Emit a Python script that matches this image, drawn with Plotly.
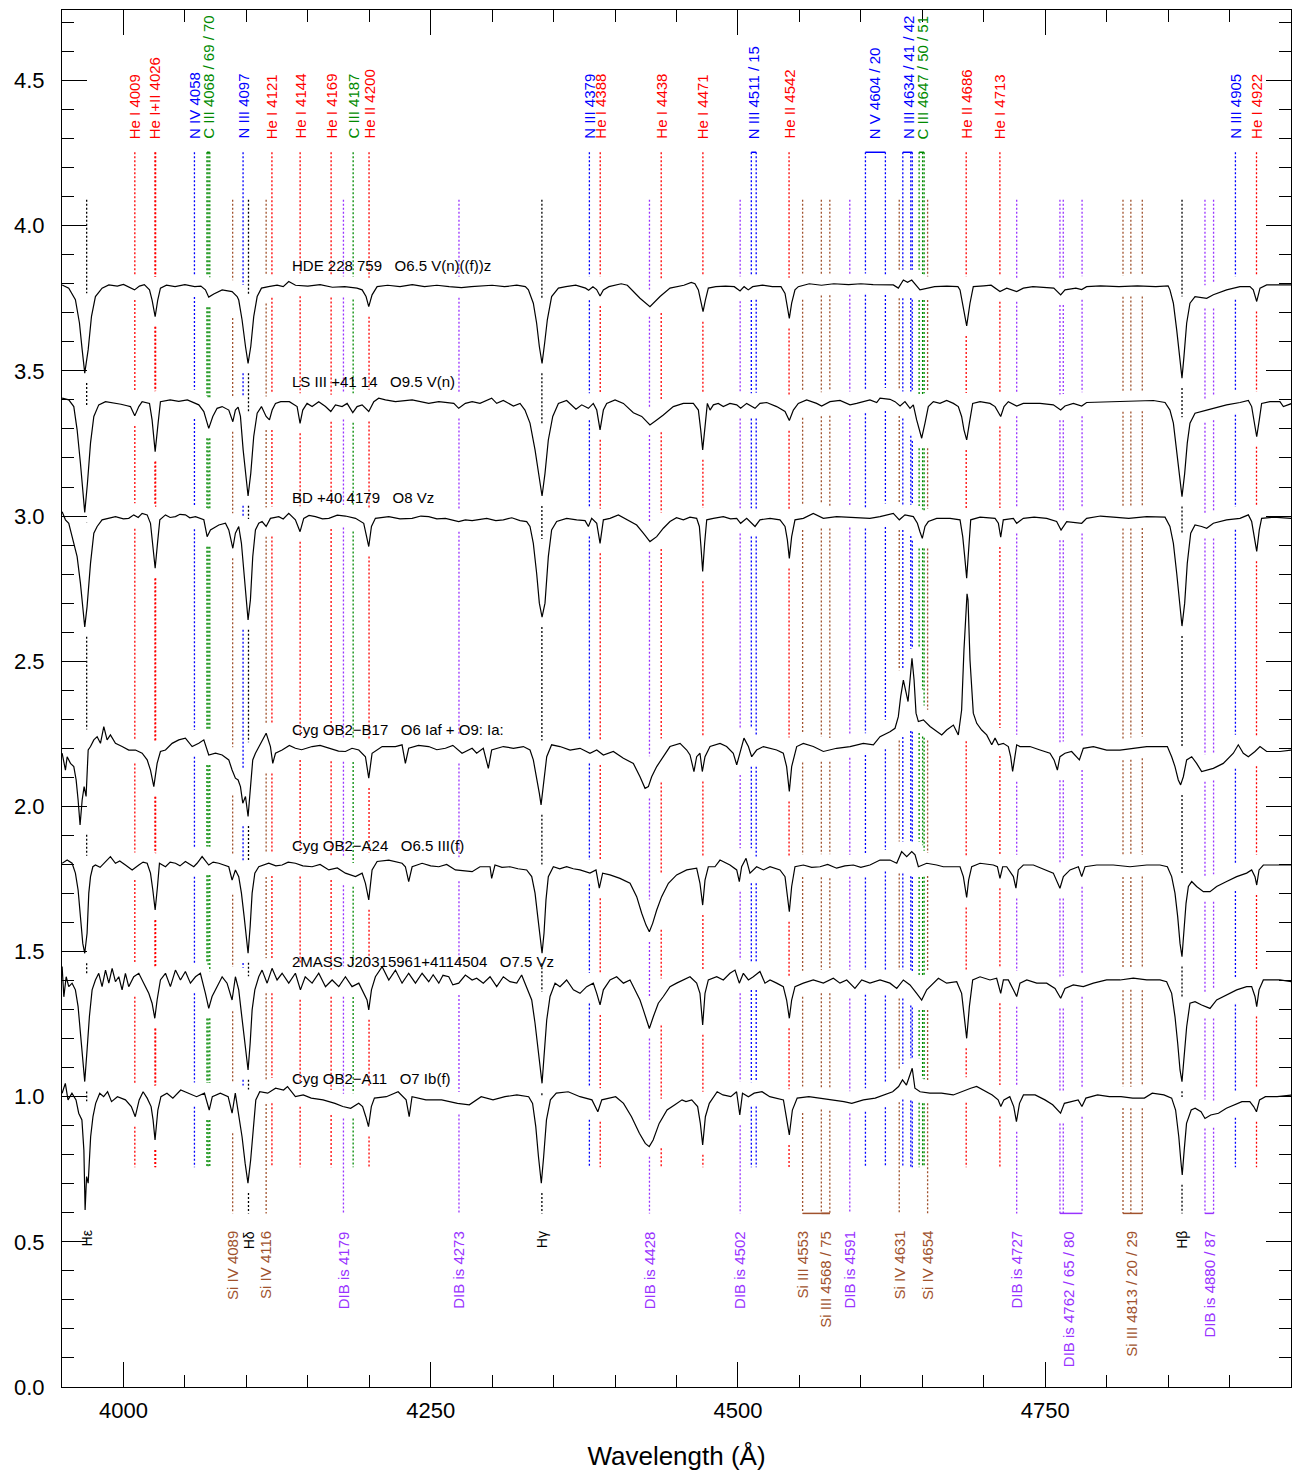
import numpy as np
import plotly.graph_objects as go

# ---------------------------------------------------------------------------
# Rectified spectra (wavelength in Angstrom, flux shifted by a constant offset)
# ---------------------------------------------------------------------------
HDE_228759 = [
    (3950.1, 3.796), (3955.5, 3.785), (3960.9, 3.745), (3964.2, 3.665), (3966.4, 3.573),
    (3968.5, 3.492), (3971.3, 3.573), (3974.0, 3.688), (3977.2, 3.756), (3982.6, 3.785),
    (3988.1, 3.796), (3995.0, 3.792), (4000.0, 3.798), (4005.0, 3.786), (4009.0, 3.779),
    (4013.0, 3.792), (4017.0, 3.797), (4021.2, 3.779), (4023.3, 3.744), (4025.8, 3.687),
    (4027.9, 3.744), (4030.1, 3.785), (4035.0, 3.795), (4042.0, 3.790), (4050.0, 3.797),
    (4058.0, 3.790), (4063.0, 3.792), (4066.7, 3.779), (4069.4, 3.754), (4073.5, 3.765),
    (4080.3, 3.779), (4088.4, 3.773), (4092.5, 3.756), (4093.8, 3.744), (4096.5, 3.676),
    (4099.3, 3.584), (4101.4, 3.526), (4103.6, 3.584), (4106.0, 3.687), (4108.8, 3.756),
    (4112.3, 3.785), (4118.0, 3.790), (4125.0, 3.795), (4130.0, 3.790), (4134.5, 3.808),
    (4140.0, 3.795), (4150.0, 3.792), (4160.0, 3.797), (4170.0, 3.788), (4180.0, 3.790),
    (4190.0, 3.785), (4194.2, 3.779), (4197.4, 3.756), (4199.6, 3.721), (4202.3, 3.762),
    (4206.4, 3.790), (4215.0, 3.795), (4225.0, 3.790), (4235.0, 3.797), (4245.0, 3.790),
    (4255.0, 3.795), (4265.0, 3.790), (4275.0, 3.787), (4283.0, 3.790), (4290.0, 3.792),
    (4300.0, 3.795), (4310.0, 3.790), (4320.0, 3.795), (4327.0, 3.790), (4329.5, 3.779),
    (4333.5, 3.733), (4336.2, 3.664), (4338.4, 3.584), (4340.6, 3.526), (4342.7, 3.595),
    (4344.9, 3.676), (4348.4, 3.756), (4353.9, 3.785), (4360.0, 3.790), (4368.0, 3.795),
    (4376.0, 3.785), (4378.5, 3.778), (4382.0, 3.790), (4385.0, 3.780), (4387.8, 3.758),
    (4390.5, 3.779), (4395.0, 3.790), (4400.0, 3.795), (4405.0, 3.800), (4410.0, 3.795),
    (4413.5, 3.779), (4420.3, 3.750), (4428.4, 3.721), (4436.6, 3.756), (4444.7, 3.785),
    (4450.0, 3.790), (4456.0, 3.795), (4462.0, 3.805), (4465.0, 3.800), (4467.8, 3.779),
    (4469.7, 3.744), (4471.6, 3.704), (4473.5, 3.744), (4475.9, 3.785), (4482.0, 3.790),
    (4490.0, 3.792), (4497.0, 3.790), (4501.7, 3.775), (4505.0, 3.790), (4508.4, 3.779),
    (4512.0, 3.790), (4520.0, 3.795), (4528.0, 3.790), (4535.0, 3.790), (4538.3, 3.767),
    (4540.2, 3.721), (4541.8, 3.681), (4543.7, 3.733), (4546.4, 3.779), (4549.1, 3.790),
    (4558.0, 3.800), (4568.0, 3.795), (4578.0, 3.800), (4590.0, 3.797), (4600.0, 3.800),
    (4610.0, 3.797), (4620.0, 3.796), (4626.4, 3.796), (4630.5, 3.785), (4634.6, 3.813),
    (4638.0, 3.805), (4641.4, 3.813), (4648.1, 3.779), (4653.6, 3.785), (4660.0, 3.790),
    (4670.0, 3.792), (4679.0, 3.790), (4680.7, 3.779), (4683.4, 3.710), (4686.1, 3.655),
    (4688.8, 3.733), (4691.5, 3.790), (4700.0, 3.793), (4706.0, 3.795), (4713.2, 3.773),
    (4718.7, 3.785), (4726.8, 3.773), (4732.2, 3.785), (4740.0, 3.790), (4750.0, 3.788),
    (4757.0, 3.785), (4762.6, 3.762), (4766.1, 3.779), (4775.0, 3.785), (4779.7, 3.780),
    (4783.7, 3.790), (4795.0, 3.793), (4810.0, 3.790), (4825.0, 3.793), (4840.0, 3.790),
    (4850.0, 3.793), (4851.5, 3.779), (4854.3, 3.733), (4857.0, 3.641), (4859.7, 3.538),
    (4861.3, 3.475), (4862.9, 3.549), (4865.1, 3.664), (4867.8, 3.733), (4871.9, 3.756),
    (4881.4, 3.750), (4886.8, 3.762), (4897.6, 3.779), (4908.5, 3.790), (4916.6, 3.790),
    (4919.3, 3.779), (4922.1, 3.739), (4924.8, 3.785), (4930.2, 3.796), (4950.8, 3.796),
]

LS_III_41_14 = [
    (3950.1, 3.406), (3955.5, 3.400), (3959.6, 3.377), (3962.3, 3.297), (3965.0, 3.182),
    (3966.9, 3.090), (3968.5, 3.012), (3970.7, 3.113), (3973.2, 3.251), (3975.9, 3.343),
    (3979.9, 3.383), (3985.4, 3.394), (3992.0, 3.390), (3998.0, 3.385), (4003.0, 3.380),
    (4005.7, 3.377), (4009.2, 3.345), (4012.5, 3.377), (4015.2, 3.394), (4021.2, 3.388),
    (4023.3, 3.331), (4025.8, 3.222), (4028.2, 3.320), (4030.1, 3.394), (4038.0, 3.400),
    (4045.0, 3.395), (4052.0, 3.400), (4057.0, 3.390), (4061.3, 3.383), (4065.4, 3.360),
    (4069.4, 3.302), (4072.7, 3.343), (4076.2, 3.371), (4080.3, 3.377), (4085.7, 3.365),
    (4089.0, 3.325), (4091.1, 3.365), (4093.3, 3.375), (4095.2, 3.343), (4097.4, 3.228),
    (4099.3, 3.147), (4101.4, 3.069), (4103.6, 3.147), (4106.0, 3.274), (4108.8, 3.354),
    (4112.3, 3.377), (4116.1, 3.343), (4118.8, 3.331), (4121.0, 3.365), (4123.7, 3.388),
    (4128.0, 3.394), (4135.0, 3.394), (4141.3, 3.377), (4143.7, 3.319), (4145.9, 3.365),
    (4149.4, 3.388), (4153.5, 3.377), (4158.9, 3.394), (4164.4, 3.377), (4168.7, 3.360),
    (4172.5, 3.383), (4177.9, 3.377), (4182.0, 3.388), (4186.6, 3.356), (4190.1, 3.377),
    (4194.2, 3.383), (4199.6, 3.360), (4203.7, 3.394), (4207.7, 3.406), (4213.2, 3.400),
    (4221.3, 3.394), (4234.9, 3.400), (4248.4, 3.388), (4256.6, 3.394), (4268.8, 3.388),
    (4272.8, 3.371), (4278.2, 3.388), (4283.7, 3.394), (4290.1, 3.388), (4299.6, 3.406),
    (4303.7, 3.388), (4309.1, 3.398), (4317.3, 3.379), (4322.7, 3.388), (4326.7, 3.365),
    (4330.8, 3.320), (4334.9, 3.228), (4337.6, 3.147), (4340.6, 3.069), (4343.0, 3.147),
    (4345.7, 3.262), (4349.3, 3.343), (4353.9, 3.388), (4360.6, 3.398), (4363.4, 3.388),
    (4368.2, 3.368), (4372.9, 3.383), (4378.3, 3.371), (4382.3, 3.388), (4385.1, 3.365),
    (4387.8, 3.297), (4390.5, 3.365), (4393.2, 3.388), (4400.0, 3.400), (4406.8, 3.388),
    (4414.9, 3.356), (4421.7, 3.343), (4428.4, 3.314), (4433.9, 3.331), (4439.3, 3.348),
    (4447.4, 3.377), (4455.6, 3.388), (4463.7, 3.388), (4467.8, 3.365), (4469.7, 3.297),
    (4471.3, 3.228), (4473.5, 3.320), (4475.1, 3.388), (4477.3, 3.365), (4480.0, 3.383),
    (4484.0, 3.388), (4488.1, 3.377), (4493.5, 3.388), (4499.0, 3.383), (4502.2, 3.371),
    (4507.1, 3.388), (4513.9, 3.371), (4517.9, 3.388), (4523.4, 3.391), (4531.5, 3.377),
    (4538.3, 3.360), (4541.8, 3.329), (4545.1, 3.365), (4549.1, 3.388), (4555.9, 3.400),
    (4564.0, 3.388), (4568.1, 3.379), (4574.9, 3.394), (4583.0, 3.398), (4591.2, 3.383),
    (4596.6, 3.388), (4607.4, 3.400), (4612.9, 3.391), (4615.6, 3.406), (4623.7, 3.402),
    (4627.8, 3.394), (4631.9, 3.379), (4635.9, 3.394), (4640.0, 3.371), (4642.7, 3.383),
    (4645.4, 3.331), (4649.5, 3.268), (4652.2, 3.320), (4654.9, 3.377), (4659.0, 3.394),
    (4664.4, 3.388), (4669.8, 3.398), (4675.3, 3.388), (4679.3, 3.377), (4682.0, 3.343),
    (4683.9, 3.297), (4686.1, 3.262), (4688.3, 3.320), (4691.0, 3.388), (4697.0, 3.394),
    (4705.1, 3.388), (4709.2, 3.377), (4711.9, 3.354), (4713.8, 3.343), (4716.5, 3.377),
    (4720.0, 3.394), (4726.8, 3.379), (4732.2, 3.388), (4745.8, 3.388), (4756.6, 3.383),
    (4762.6, 3.365), (4766.1, 3.379), (4772.9, 3.388), (4779.7, 3.379), (4783.7, 3.391),
    (4805.4, 3.394), (4821.7, 3.396), (4838.0, 3.398), (4847.5, 3.391), (4851.5, 3.365),
    (4854.3, 3.320), (4857.0, 3.228), (4859.1, 3.136), (4861.3, 3.067), (4863.5, 3.147),
    (4865.6, 3.251), (4867.8, 3.320), (4871.9, 3.354), (4881.4, 3.365), (4886.8, 3.371),
    (4897.6, 3.383), (4908.5, 3.391), (4915.3, 3.398), (4918.0, 3.377), (4920.1, 3.320),
    (4922.1, 3.273), (4924.2, 3.331), (4926.1, 3.388), (4932.9, 3.394), (4941.0, 3.394),
    (4943.8, 3.377), (4950.8, 3.388),
]

BD_40_4179 = [
    (3950.1, 3.015), (3952.8, 2.987), (3955.5, 2.975), (3958.2, 2.929), (3962.3, 2.860),
    (3965.0, 2.768), (3966.9, 2.688), (3968.5, 2.618), (3970.4, 2.688), (3973.2, 2.837),
    (3975.9, 2.941), (3978.6, 2.964), (3982.6, 2.987), (3988.1, 2.992), (3993.5, 2.998),
    (4000.0, 2.990), (4004.3, 2.992), (4008.4, 3.004), (4012.0, 2.995), (4015.2, 3.009),
    (4019.3, 3.004), (4022.0, 2.975), (4023.9, 2.906), (4025.8, 2.820), (4027.7, 2.906),
    (4029.6, 2.987), (4034.2, 3.004), (4038.0, 2.995), (4042.3, 2.998), (4046.0, 3.006),
    (4050.4, 3.004), (4054.0, 2.994), (4058.6, 2.998), (4065.4, 2.987), (4068.1, 2.929),
    (4070.8, 2.952), (4077.6, 2.969), (4083.0, 2.975), (4085.7, 2.952), (4089.0, 2.889),
    (4091.1, 2.941), (4093.8, 2.964), (4096.0, 2.906), (4097.9, 2.803), (4099.8, 2.711),
    (4101.4, 2.642), (4103.3, 2.711), (4105.2, 2.860), (4107.4, 2.952), (4110.1, 2.975),
    (4112.8, 2.981), (4116.1, 2.964), (4119.6, 2.992), (4126.4, 2.998), (4130.0, 2.990),
    (4134.5, 3.009), (4139.9, 2.987), (4143.7, 2.946), (4146.7, 2.992), (4151.0, 3.002),
    (4156.2, 2.998), (4162.0, 2.990), (4167.1, 2.992), (4174.0, 3.003), (4180.6, 3.000),
    (4188.8, 2.992), (4195.5, 2.975), (4197.4, 2.941), (4199.6, 2.895), (4201.8, 2.964),
    (4205.0, 2.992), (4215.9, 2.998), (4225.0, 2.990), (4234.9, 2.992), (4242.0, 3.000),
    (4248.4, 2.998), (4255.0, 2.990), (4262.0, 2.992), (4272.8, 2.981), (4278.2, 2.987),
    (4283.7, 2.984), (4295.6, 2.992), (4303.0, 2.984), (4309.1, 2.987), (4316.0, 2.994),
    (4322.7, 2.984), (4328.1, 2.981), (4330.8, 2.964), (4333.5, 2.906), (4336.2, 2.803),
    (4338.4, 2.700), (4340.6, 2.652), (4343.0, 2.700), (4345.7, 2.860), (4348.4, 2.952),
    (4352.5, 2.981), (4360.6, 2.992), (4368.8, 2.987), (4375.6, 2.984), (4378.3, 2.964),
    (4381.0, 2.992), (4385.1, 2.975), (4387.8, 2.906), (4390.5, 2.987), (4395.9, 2.992),
    (4402.7, 3.004), (4409.5, 2.987), (4417.6, 2.969), (4423.0, 2.941), (4428.4, 2.912),
    (4433.9, 2.929), (4439.3, 2.958), (4444.7, 2.981), (4450.0, 2.994), (4455.6, 2.987),
    (4461.0, 2.996), (4466.4, 2.992), (4468.6, 2.964), (4469.9, 2.895), (4471.3, 2.809),
    (4472.9, 2.906), (4474.6, 2.987), (4480.0, 2.992), (4488.1, 2.998), (4494.0, 2.990),
    (4499.0, 2.992), (4502.2, 2.975), (4507.1, 2.992), (4513.9, 2.964), (4517.9, 2.987),
    (4526.1, 2.992), (4534.2, 2.987), (4538.3, 2.964), (4540.2, 2.918), (4541.8, 2.854),
    (4543.7, 2.929), (4546.4, 2.987), (4553.2, 2.992), (4561.3, 3.009), (4569.5, 2.992),
    (4580.3, 2.998), (4593.9, 2.996), (4607.4, 2.992), (4615.6, 2.998), (4626.4, 3.009),
    (4631.3, 2.987), (4635.9, 3.004), (4642.7, 2.998), (4646.0, 2.975), (4648.1, 2.946),
    (4650.0, 2.923), (4652.2, 2.964), (4654.9, 2.981), (4661.7, 2.992), (4672.6, 2.992),
    (4680.7, 2.987), (4682.9, 2.929), (4684.5, 2.860), (4686.1, 2.786), (4687.7, 2.883),
    (4689.4, 2.987), (4697.0, 2.996), (4709.2, 2.992), (4711.9, 2.975), (4713.8, 2.927),
    (4715.9, 2.987), (4724.1, 2.992), (4726.8, 2.975), (4732.2, 2.992), (4741.0, 2.996),
    (4751.2, 2.992), (4759.3, 2.981), (4762.9, 2.952), (4767.5, 2.981), (4779.7, 2.975),
    (4783.7, 2.992), (4795.0, 3.000), (4805.4, 2.996), (4818.0, 2.992), (4832.6, 2.998),
    (4847.5, 2.996), (4851.5, 2.964), (4854.3, 2.906), (4857.0, 2.803), (4859.1, 2.700),
    (4861.3, 2.621), (4863.5, 2.700), (4865.6, 2.837), (4868.4, 2.941), (4871.9, 2.969),
    (4877.3, 2.964), (4881.4, 2.958), (4886.8, 2.975), (4897.6, 2.987), (4908.5, 2.992),
    (4915.3, 3.004), (4918.0, 2.981), (4920.1, 2.929), (4922.1, 2.878), (4924.2, 2.952),
    (4926.1, 2.992), (4935.6, 2.996), (4950.8, 2.992),
]

CYG_OB2_B17 = [
    (3950.1, 2.183), (3952.8, 2.125), (3954.2, 2.171), (3956.9, 2.148), (3959.6, 2.137),
    (3961.5, 2.091), (3963.1, 2.022), (3964.7, 1.936), (3966.4, 2.022), (3968.0, 2.068),
    (3969.6, 2.034), (3971.3, 2.194), (3973.2, 2.206), (3975.9, 2.229), (3978.6, 2.240),
    (3981.3, 2.217), (3984.0, 2.275), (3986.7, 2.229), (3989.4, 2.246), (3993.5, 2.217),
    (3998.9, 2.206), (4004.3, 2.194), (4009.8, 2.194), (4015.2, 2.183), (4019.3, 2.160),
    (4022.0, 2.125), (4024.7, 2.068), (4027.4, 2.148), (4030.1, 2.189), (4034.2, 2.194),
    (4039.6, 2.217), (4045.0, 2.229), (4050.4, 2.235), (4055.9, 2.206), (4061.3, 2.217),
    (4065.4, 2.229), (4069.4, 2.177), (4074.9, 2.183), (4080.3, 2.177), (4085.7, 2.160),
    (4088.4, 2.125), (4091.1, 2.097), (4093.3, 2.091), (4095.2, 2.068), (4097.1, 2.011),
    (4099.3, 2.034), (4101.4, 1.965), (4103.3, 2.068), (4105.2, 2.160), (4107.4, 2.183),
    (4111.5, 2.217), (4116.1, 2.252), (4119.6, 2.206), (4121.5, 2.148), (4123.7, 2.183),
    (4129.1, 2.194), (4135.0, 2.210), (4139.9, 2.200), (4145.0, 2.195), (4153.5, 2.206),
    (4160.0, 2.210), (4167.1, 2.200), (4175.0, 2.190), (4180.6, 2.189), (4186.0, 2.200),
    (4191.5, 2.194), (4196.9, 2.171), (4199.6, 2.097), (4202.3, 2.183), (4210.5, 2.206),
    (4221.3, 2.206), (4226.7, 2.212), (4229.4, 2.148), (4232.1, 2.200), (4240.0, 2.210),
    (4248.4, 2.206), (4255.0, 2.195), (4262.0, 2.200), (4268.0, 2.210), (4275.5, 2.183),
    (4283.7, 2.200), (4287.4, 2.183), (4292.8, 2.200), (4296.9, 2.131), (4299.6, 2.194),
    (4309.1, 2.206), (4317.3, 2.200), (4325.4, 2.206), (4330.8, 2.194), (4333.5, 2.160),
    (4336.2, 2.102), (4338.4, 2.045), (4339.8, 2.005), (4341.7, 2.068), (4344.4, 2.171),
    (4348.4, 2.212), (4355.2, 2.206), (4363.4, 2.194), (4371.5, 2.200), (4379.6, 2.183),
    (4385.1, 2.194), (4390.5, 2.177), (4398.6, 2.189), (4406.8, 2.166), (4414.9, 2.148),
    (4420.3, 2.102), (4424.4, 2.062), (4427.1, 2.068), (4429.8, 2.102), (4433.9, 2.137),
    (4439.3, 2.171), (4444.7, 2.206), (4452.9, 2.217), (4458.3, 2.194), (4461.0, 2.177),
    (4464.2, 2.120), (4466.4, 2.171), (4469.1, 2.183), (4471.0, 2.120), (4473.2, 2.171),
    (4477.3, 2.206), (4485.4, 2.217), (4490.8, 2.206), (4496.2, 2.183), (4499.0, 2.143),
    (4501.7, 2.183), (4504.9, 2.235), (4508.5, 2.206), (4511.2, 2.171), (4515.2, 2.194),
    (4520.7, 2.206), (4531.5, 2.194), (4536.9, 2.183), (4539.6, 2.137), (4541.8, 2.051),
    (4543.7, 2.137), (4547.8, 2.206), (4553.2, 2.217), (4561.3, 2.206), (4569.5, 2.189),
    (4580.3, 2.200), (4591.2, 2.206), (4602.0, 2.217), (4610.2, 2.212), (4615.6, 2.240),
    (4623.7, 2.257), (4627.8, 2.269), (4630.5, 2.309), (4632.4, 2.378), (4634.6, 2.435),
    (4636.2, 2.401), (4638.4, 2.361), (4640.0, 2.435), (4641.6, 2.510), (4643.3, 2.435),
    (4644.9, 2.321), (4646.8, 2.292), (4650.9, 2.298), (4656.3, 2.275), (4661.7, 2.257),
    (4665.8, 2.246), (4669.8, 2.263), (4675.3, 2.280), (4679.3, 2.246), (4682.0, 2.332),
    (4683.9, 2.539), (4685.6, 2.711), (4686.4, 2.732), (4687.2, 2.711), (4688.8, 2.504),
    (4691.5, 2.321), (4694.3, 2.286), (4698.3, 2.263), (4702.4, 2.246), (4706.5, 2.212),
    (4709.2, 2.235), (4711.9, 2.212), (4715.9, 2.217), (4720.0, 2.206), (4721.9, 2.171),
    (4723.5, 2.120), (4726.8, 2.212), (4729.5, 2.206), (4737.6, 2.206), (4745.8, 2.194),
    (4753.9, 2.183), (4757.2, 2.160), (4759.9, 2.125), (4762.0, 2.171), (4766.1, 2.183),
    (4771.5, 2.189), (4775.6, 2.171), (4777.8, 2.160), (4781.0, 2.200), (4789.2, 2.206),
    (4800.0, 2.194), (4810.9, 2.194), (4821.7, 2.200), (4832.6, 2.206), (4843.4, 2.206),
    (4849.4, 2.206), (4852.9, 2.171), (4855.6, 2.137), (4858.3, 2.091), (4860.2, 2.074),
    (4862.4, 2.102), (4865.1, 2.160), (4869.2, 2.171), (4873.2, 2.148), (4877.3, 2.120),
    (4886.8, 2.131), (4894.9, 2.148), (4903.1, 2.183), (4907.1, 2.212), (4911.2, 2.183),
    (4915.3, 2.171), (4920.7, 2.189), (4924.8, 2.206), (4930.2, 2.189), (4941.0, 2.189),
    (4950.8, 2.194),
]

CYG_OB2_A24 = [
    (3950.1, 1.804), (3954.2, 1.815), (3958.2, 1.804), (3960.9, 1.770), (3963.1, 1.712),
    (3965.0, 1.609), (3966.9, 1.528), (3968.5, 1.494), (3970.4, 1.563), (3971.8, 1.701),
    (3973.2, 1.758), (3975.1, 1.792), (3977.2, 1.798), (3981.0, 1.790), (3985.4, 1.810),
    (3989.4, 1.827), (3993.5, 1.804), (3997.0, 1.812), (4001.6, 1.798), (4007.1, 1.781),
    (4012.5, 1.798), (4016.0, 1.808), (4019.3, 1.804), (4022.0, 1.770), (4023.9, 1.712),
    (4025.8, 1.643), (4027.7, 1.724), (4029.3, 1.804), (4034.2, 1.792), (4038.0, 1.808),
    (4042.3, 1.804), (4046.0, 1.795), (4050.4, 1.810), (4057.2, 1.792), (4059.9, 1.804),
    (4064.0, 1.827), (4069.4, 1.798), (4073.0, 1.808), (4077.6, 1.804), (4085.7, 1.792),
    (4088.4, 1.746), (4091.1, 1.781), (4093.8, 1.758), (4096.0, 1.701), (4098.2, 1.620),
    (4100.1, 1.551), (4101.4, 1.494), (4103.1, 1.586), (4104.7, 1.701), (4106.9, 1.770),
    (4110.1, 1.792), (4118.2, 1.804), (4124.0, 1.795), (4129.1, 1.798), (4134.0, 1.808),
    (4139.9, 1.804), (4146.0, 1.795), (4153.5, 1.792), (4160.0, 1.800), (4167.1, 1.781),
    (4174.0, 1.788), (4180.6, 1.770), (4188.8, 1.758), (4194.2, 1.770), (4196.9, 1.735),
    (4199.6, 1.678), (4202.3, 1.781), (4206.4, 1.810), (4215.9, 1.815), (4226.7, 1.804),
    (4229.4, 1.792), (4232.1, 1.741), (4234.9, 1.792), (4243.0, 1.804), (4250.0, 1.795),
    (4256.6, 1.792), (4263.0, 1.800), (4270.1, 1.781), (4283.7, 1.775), (4290.1, 1.792),
    (4298.3, 1.792), (4299.6, 1.752), (4302.3, 1.798), (4308.0, 1.790), (4314.5, 1.792),
    (4321.0, 1.785), (4328.1, 1.781), (4332.2, 1.758), (4334.9, 1.701), (4337.1, 1.620),
    (4339.0, 1.540), (4340.6, 1.494), (4342.2, 1.563), (4343.8, 1.678), (4345.7, 1.758),
    (4349.8, 1.792), (4355.0, 1.785), (4360.6, 1.792), (4366.0, 1.785), (4371.5, 1.781),
    (4379.6, 1.770), (4384.5, 1.781), (4387.2, 1.718), (4389.9, 1.770), (4395.9, 1.764),
    (4404.0, 1.752), (4412.2, 1.735), (4417.6, 1.689), (4421.7, 1.632), (4425.2, 1.591),
    (4427.9, 1.568), (4430.6, 1.597), (4433.9, 1.643), (4437.9, 1.689), (4443.4, 1.735),
    (4450.1, 1.764), (4458.3, 1.781), (4466.4, 1.787), (4469.1, 1.735), (4471.3, 1.660),
    (4473.2, 1.746), (4475.9, 1.792), (4481.3, 1.792), (4485.4, 1.815), (4493.5, 1.798),
    (4499.0, 1.781), (4501.1, 1.741), (4503.0, 1.792), (4506.6, 1.821), (4509.8, 1.770),
    (4515.2, 1.792), (4520.7, 1.781), (4526.1, 1.792), (4534.2, 1.781), (4538.3, 1.758),
    (4540.2, 1.701), (4541.8, 1.637), (4543.7, 1.724), (4546.4, 1.792), (4553.2, 1.798),
    (4560.0, 1.790), (4566.8, 1.792), (4573.0, 1.800), (4580.3, 1.787), (4587.0, 1.795),
    (4593.9, 1.798), (4600.0, 1.790), (4607.4, 1.798), (4615.6, 1.815), (4623.7, 1.815),
    (4629.2, 1.804), (4633.2, 1.844), (4637.3, 1.827), (4641.4, 1.844), (4644.1, 1.833),
    (4646.8, 1.792), (4653.6, 1.804), (4661.7, 1.798), (4667.1, 1.792), (4675.3, 1.792),
    (4680.7, 1.792), (4683.4, 1.758), (4685.0, 1.712), (4686.1, 1.686), (4687.7, 1.746),
    (4690.2, 1.792), (4697.0, 1.804), (4707.8, 1.798), (4711.1, 1.792), (4713.2, 1.752),
    (4715.4, 1.792), (4718.7, 1.792), (4724.1, 1.758), (4726.2, 1.718), (4728.1, 1.781),
    (4732.2, 1.798), (4740.4, 1.798), (4751.2, 1.781), (4756.6, 1.770), (4762.0, 1.718),
    (4764.8, 1.758), (4770.2, 1.781), (4777.0, 1.792), (4779.7, 1.758), (4782.4, 1.792),
    (4791.9, 1.798), (4805.4, 1.798), (4819.0, 1.792), (4832.6, 1.798), (4843.4, 1.798),
    (4849.4, 1.792), (4852.9, 1.758), (4855.6, 1.701), (4857.8, 1.620), (4859.7, 1.528),
    (4861.3, 1.482), (4862.9, 1.563), (4864.6, 1.666), (4866.5, 1.724), (4869.2, 1.741),
    (4873.2, 1.724), (4878.7, 1.706), (4884.1, 1.706), (4889.5, 1.724), (4897.6, 1.741),
    (4905.8, 1.758), (4913.9, 1.770), (4918.0, 1.781), (4920.7, 1.758), (4922.1, 1.729),
    (4924.0, 1.781), (4927.5, 1.798), (4941.0, 1.798), (4950.8, 1.798),
]

J20315961_4114504 = [
    (3950.1, 1.448), (3951.5, 1.344), (3953.4, 1.413), (3955.5, 1.379), (3958.2, 1.391),
    (3960.9, 1.368), (3963.1, 1.310), (3965.0, 1.218), (3966.9, 1.115), (3968.5, 1.052),
    (3970.4, 1.161), (3972.3, 1.276), (3974.5, 1.368), (3977.2, 1.402), (3979.9, 1.425),
    (3982.6, 1.379), (3985.4, 1.436), (3988.1, 1.391), (3990.8, 1.442), (3993.5, 1.396),
    (3996.2, 1.413), (3998.9, 1.368), (4001.6, 1.425), (4004.3, 1.379), (4008.4, 1.413),
    (4012.5, 1.425), (4016.5, 1.391), (4020.6, 1.356), (4023.3, 1.322), (4025.5, 1.270),
    (4027.4, 1.333), (4030.1, 1.402), (4034.2, 1.425), (4038.2, 1.379), (4042.3, 1.436),
    (4046.4, 1.402), (4050.4, 1.431), (4054.5, 1.391), (4058.6, 1.413), (4062.6, 1.425),
    (4066.7, 1.356), (4069.4, 1.304), (4072.1, 1.345), (4076.2, 1.379), (4080.3, 1.413),
    (4084.3, 1.391), (4088.4, 1.333), (4091.1, 1.413), (4093.8, 1.368), (4096.0, 1.287),
    (4097.9, 1.218), (4099.8, 1.138), (4101.4, 1.092), (4103.1, 1.184), (4104.7, 1.299),
    (4106.9, 1.368), (4110.1, 1.413), (4112.8, 1.436), (4116.9, 1.391), (4120.9, 1.442),
    (4125.0, 1.402), (4129.1, 1.425), (4134.5, 1.391), (4139.9, 1.425), (4144.0, 1.368),
    (4147.9, 1.413), (4153.5, 1.391), (4158.9, 1.425), (4164.4, 1.379), (4169.8, 1.402),
    (4175.2, 1.379), (4180.6, 1.413), (4186.0, 1.379), (4191.5, 1.391), (4195.5, 1.356),
    (4198.2, 1.333), (4199.6, 1.299), (4201.8, 1.368), (4205.0, 1.413), (4210.5, 1.448),
    (4215.9, 1.402), (4221.3, 1.436), (4226.7, 1.391), (4232.1, 1.425), (4237.6, 1.391),
    (4243.0, 1.425), (4248.4, 1.396), (4252.0, 1.420), (4256.6, 1.391), (4260.0, 1.418),
    (4264.7, 1.413), (4268.0, 1.385), (4272.8, 1.391), (4278.2, 1.419), (4283.7, 1.402),
    (4287.4, 1.408), (4292.8, 1.391), (4298.3, 1.413), (4303.7, 1.379), (4309.1, 1.413),
    (4314.5, 1.396), (4320.0, 1.391), (4324.0, 1.419), (4328.1, 1.379), (4332.2, 1.333),
    (4334.9, 1.253), (4337.1, 1.172), (4339.0, 1.092), (4340.6, 1.046), (4342.2, 1.138),
    (4344.4, 1.264), (4347.1, 1.345), (4351.2, 1.391), (4355.2, 1.379), (4360.6, 1.402),
    (4366.1, 1.368), (4371.5, 1.356), (4376.9, 1.379), (4382.3, 1.391), (4385.1, 1.356),
    (4387.8, 1.316), (4390.5, 1.368), (4395.9, 1.402), (4401.3, 1.413), (4406.8, 1.391),
    (4412.2, 1.402), (4416.2, 1.368), (4420.3, 1.333), (4423.0, 1.299), (4425.7, 1.264),
    (4427.9, 1.235), (4431.2, 1.276), (4435.2, 1.322), (4439.3, 1.345), (4444.7, 1.379),
    (4450.1, 1.391), (4455.6, 1.402), (4461.0, 1.413), (4466.4, 1.391), (4469.1, 1.356),
    (4471.3, 1.247), (4473.2, 1.356), (4475.9, 1.402), (4482.7, 1.413), (4488.1, 1.402),
    (4493.5, 1.425), (4497.6, 1.436), (4501.1, 1.391), (4504.4, 1.425), (4508.5, 1.402),
    (4512.5, 1.413), (4517.9, 1.431), (4522.0, 1.391), (4526.1, 1.402), (4531.5, 1.391),
    (4536.9, 1.379), (4539.6, 1.333), (4541.8, 1.270), (4543.7, 1.333), (4546.4, 1.379),
    (4553.2, 1.391), (4561.3, 1.402), (4569.5, 1.391), (4577.6, 1.408), (4583.0, 1.391),
    (4588.5, 1.402), (4595.2, 1.373), (4600.7, 1.402), (4607.4, 1.391), (4615.6, 1.402),
    (4623.7, 1.391), (4629.2, 1.373), (4634.6, 1.402), (4640.0, 1.385), (4645.4, 1.356),
    (4649.5, 1.333), (4653.6, 1.368), (4659.0, 1.391), (4663.1, 1.408), (4669.8, 1.391),
    (4678.0, 1.396), (4682.0, 1.356), (4683.9, 1.276), (4686.1, 1.201), (4688.3, 1.310),
    (4691.0, 1.402), (4697.0, 1.413), (4705.1, 1.402), (4710.5, 1.408), (4713.8, 1.356),
    (4716.0, 1.402), (4720.0, 1.402), (4724.1, 1.368), (4726.8, 1.345), (4729.5, 1.391),
    (4735.0, 1.402), (4743.1, 1.391), (4751.2, 1.391), (4758.0, 1.373), (4762.6, 1.339),
    (4766.1, 1.373), (4772.9, 1.385), (4781.0, 1.379), (4789.2, 1.391), (4800.0, 1.402),
    (4810.9, 1.402), (4821.7, 1.408), (4832.6, 1.402), (4843.4, 1.402), (4848.8, 1.396),
    (4852.9, 1.356), (4855.6, 1.276), (4857.8, 1.184), (4859.7, 1.092), (4861.3, 1.052),
    (4862.9, 1.126), (4865.1, 1.241), (4867.8, 1.322), (4871.9, 1.327), (4877.3, 1.316),
    (4884.1, 1.304), (4889.5, 1.333), (4897.6, 1.350), (4905.8, 1.368), (4913.9, 1.379),
    (4918.0, 1.379), (4920.7, 1.345), (4922.1, 1.310), (4924.0, 1.368), (4927.5, 1.402),
    (4941.0, 1.402), (4950.8, 1.396),
]

CYG_OB2_A11 = [
    (3950.1, 1.012), (3952.7, 1.046), (3954.9, 0.989), (3958.1, 1.012), (3961.4, 0.989),
    (3963.6, 0.943), (3966.2, 0.920), (3967.8, 0.816), (3968.8, 0.610), (3970.0, 0.725),
    (3971.3, 0.702), (3973.3, 0.862), (3975.2, 0.931), (3977.4, 0.977), (3980.7, 1.012),
    (3983.9, 1.000), (3987.1, 1.017), (3990.3, 0.983), (3995.1, 1.000), (4001.6, 0.989),
    (4006.4, 0.966), (4009.6, 0.931), (4012.8, 0.989), (4016.0, 1.017), (4019.3, 0.995),
    (4022.5, 0.966), (4024.1, 0.920), (4025.7, 0.851), (4028.0, 0.954), (4030.5, 1.000),
    (4035.4, 1.012), (4040.2, 0.995), (4046.6, 1.023), (4053.0, 1.012), (4059.5, 1.000),
    (4065.9, 1.012), (4069.8, 0.954), (4072.3, 1.000), (4078.8, 1.012), (4085.2, 1.000),
    (4088.4, 0.943), (4091.0, 1.012), (4093.3, 0.954), (4096.5, 0.862), (4099.0, 0.771),
    (4101.3, 0.702), (4103.5, 0.782), (4105.5, 0.897), (4107.7, 0.989), (4110.9, 1.017),
    (4117.4, 1.012), (4123.8, 1.029), (4130.3, 1.023), (4133.5, 1.035), (4139.9, 1.000),
    (4146.3, 1.006), (4152.8, 0.995), (4162.4, 0.989), (4172.1, 0.977), (4178.5, 0.966),
    (4184.9, 0.960), (4191.4, 0.977), (4194.6, 0.966), (4197.2, 0.931), (4199.4, 0.897),
    (4201.7, 0.966), (4204.2, 0.995), (4213.9, 1.000), (4223.5, 1.017), (4230.0, 0.989),
    (4232.5, 0.931), (4234.8, 1.000), (4246.1, 0.989), (4258.9, 0.989), (4271.8, 0.977),
    (4281.4, 0.972), (4291.1, 1.000), (4300.7, 0.989), (4310.4, 1.000), (4320.1, 1.006),
    (4329.7, 1.000), (4332.9, 0.977), (4335.5, 0.897), (4337.7, 0.793), (4340.0, 0.702),
    (4341.9, 0.793), (4344.2, 0.920), (4347.4, 0.989), (4352.2, 1.012), (4361.9, 1.017),
    (4371.5, 1.000), (4381.2, 0.989), (4386.0, 0.948), (4389.2, 0.989), (4400.5, 1.000),
    (4406.9, 0.977), (4413.4, 0.931), (4419.8, 0.874), (4424.6, 0.839), (4427.8, 0.828),
    (4431.0, 0.851), (4435.9, 0.908), (4442.3, 0.954), (4448.7, 0.972), (4454.5, 0.989),
    (4457.7, 0.983), (4462.4, 0.989), (4467.2, 0.966), (4469.4, 0.908), (4471.3, 0.834),
    (4473.5, 0.931), (4476.7, 0.977), (4483.1, 1.017), (4487.8, 1.006), (4494.2, 1.000),
    (4498.9, 1.017), (4501.5, 0.937), (4503.7, 1.012), (4508.5, 1.000), (4513.2, 1.012),
    (4519.6, 1.017), (4525.9, 1.000), (4532.3, 0.995), (4537.0, 0.989), (4539.3, 0.931),
    (4541.8, 0.868), (4544.3, 0.954), (4548.2, 0.995), (4557.7, 1.000), (4567.2, 0.995),
    (4576.7, 0.989), (4586.2, 0.983), (4592.6, 0.977), (4602.1, 0.989), (4611.7, 0.995),
    (4618.0, 1.006), (4625.9, 1.017), (4630.7, 1.035), (4633.9, 1.058), (4637.1, 1.040),
    (4641.8, 1.098), (4644.0, 1.029), (4648.2, 1.017), (4656.1, 1.012), (4665.6, 1.012),
    (4675.2, 1.006), (4684.7, 1.023), (4689.4, 1.029), (4694.2, 1.035), (4699.0, 1.023),
    (4706.9, 1.006), (4711.7, 0.989), (4713.9, 0.966), (4716.4, 0.989), (4721.2, 1.000),
    (4724.4, 0.966), (4726.6, 0.914), (4729.1, 0.977), (4732.3, 1.006), (4741.8, 1.006),
    (4749.8, 0.989), (4756.1, 0.972), (4760.2, 0.954), (4762.5, 0.943), (4765.6, 0.977),
    (4770.4, 0.983), (4776.8, 0.989), (4779.9, 0.966), (4783.1, 0.995), (4792.6, 1.006),
    (4802.2, 1.000), (4811.7, 1.000), (4821.2, 0.995), (4830.7, 0.995), (4837.1, 1.012),
    (4846.6, 1.006), (4852.9, 0.995), (4856.1, 0.954), (4858.7, 0.862), (4860.3, 0.782),
    (4861.5, 0.730), (4863.1, 0.816), (4865.0, 0.908), (4868.8, 0.954), (4872.0, 0.960),
    (4876.8, 0.948), (4880.0, 0.925), (4884.7, 0.937), (4891.0, 0.943), (4897.4, 0.960),
    (4903.8, 0.972), (4910.1, 0.983), (4916.5, 0.983), (4919.6, 0.966), (4921.9, 0.948),
    (4924.4, 0.989), (4929.2, 1.000), (4938.7, 1.000), (4950.8, 1.006),
]

SPECTRA = [HDE_228759, LS_III_41_14, BD_40_4179, CYG_OB2_B17,
           CYG_OB2_A24, J20315961_4114504, CYG_OB2_A11]
STAR_NAMES = ["HDE 228 759", "LS III +41 14", "BD +40 4179", "Cyg OB2\u2212B17",
              "Cyg OB2\u2212A24", "2MASS J20315961+4114504", "Cyg OB2\u2212A11"]
SPECTRAL_TYPES = ["O6.5 V(n)((f))z", "O9.5 V(n)", "O8 Vz", "O6 Iaf + O9: Ia:",
                  "O6.5 III(f)", "O7.5 Vz", "O7 Ib(f)"]
CONTINUUM = [3.8, 3.4, 3.0, 2.2, 1.8, 1.4, 1.0]

# ---------------------------------------------------------------------------
# Line identifications: label, rest wavelengths, colour key
# ---------------------------------------------------------------------------
TOP_LINES = [
    ("He I 4009", [4009.26], "he"),
    ("He I+II 4026", [4025.60, 4026.19], "he"),
    ("N IV 4058", [4057.76], "n"),
    ("C III 4068 / 69 / 70", [4067.94, 4068.91, 4070.26], "c"),
    ("N III 4097", [4097.33], "n"),
    ("He I 4121", [4120.81], "he"),
    ("He I 4144", [4143.76], "he"),
    ("He I 4169", [4168.97], "he"),
    ("C III 4187", [4186.90], "c"),
    ("He II 4200", [4199.83], "he"),
    ("N III 4379", [4379.11], "n"),
    ("He I 4388", [4387.93], "he"),
    ("He I 4438", [4437.55], "he"),
    ("He I 4471", [4471.48], "he"),
    ("N III 4511 / 15", [4510.88, 4514.85], "n"),
    ("He II 4542", [4541.59], "he"),
    ("N V 4604 / 20", [4603.73, 4619.97], "n"),
    ("N III 4634 / 41 / 42", [4634.14, 4640.64, 4641.85], "n"),
    ("C III 4647 / 50 / 51", [4647.42, 4650.25, 4651.47], "c"),
    ("He II 4686", [4685.71], "he"),
    ("He I 4713", [4713.14], "he"),
    ("N III 4905", [4904.78], "n"),
    ("He I 4922", [4921.93], "he"),
]

BOTTOM_LINES = [
    ("H\u03b5", [3970.07], "h"),
    ("Si IV 4089", [4088.86], "si"),
    ("H\u03b4", [4101.74], "h"),
    ("Si IV 4116", [4116.10], "si"),
    ("DIB is 4179", [4179.0], "dib"),
    ("DIB is 4273", [4273.0], "dib"),
    ("H\u03b3", [4340.47], "h"),
    ("DIB is 4428", [4428.0], "dib"),
    ("DIB is 4502", [4501.8], "dib"),
    ("Si III 4553", [4552.62], "si"),
    ("Si III 4568 / 75", [4567.84, 4574.76], "si"),
    ("DIB is 4591", [4591.0], "dib"),
    ("Si IV 4631", [4631.24], "si"),
    ("Si IV 4654", [4654.32], "si"),
    ("DIB is 4727", [4726.8], "dib"),
    ("DIB is 4762 / 65 / 80", [4762.0, 4764.7, 4780.0], "dib"),
    ("Si III 4813 / 20 / 29", [4813.3, 4819.7, 4829.0], "si"),
    ("H\u03b2", [4861.33], "h"),
    ("DIB is 4880 / 87", [4880.0, 4887.0], "dib"),
]
# the Si III triplet is tied together underneath
SI_III_TRIPLET = [4552.62, 4567.84, 4574.76]

COLORS = {"he": "#ff0000", "n": "#0000ff", "c": "#008a00", "h": "#000000",
          "si": "#a0522d", "dib": "#9933ff"}

# vertical extent of the identification ticks
TOP_START, TOP_END = 4.253, 0.757
BOT_START, BOT_END = 4.089, 0.598
TOP_LABEL_Y, BOT_LABEL_Y = 4.292, 0.545
NAME_X, NAME_DY = 4135.5, 0.064

FONT = "Liberation Sans, Arial, Helvetica, sans-serif"

spec_arrays = [(np.array([p[0] for p in s]), np.array([p[1] for p in s])) for s in SPECTRA]


def tick_segments(wl, y_start, y_end, half=6.0, pad=0.035):
    """Vertical dotted tick at wl, broken where it would cross a spectrum."""
    bands = []
    for sx, sy in spec_arrays:
        grid = np.linspace(wl - half, wl + half, 121)
        f = np.interp(grid, sx, sy)
        bands.append((f.min() - pad, f.max() + pad))
    bands.sort(key=lambda b: -b[1])
    segs, cur = [], y_start
    for lo, hi in bands:
        if hi < cur and hi > y_end:
            segs.append((cur, hi))
        cur = min(cur, lo)
        if cur <= y_end:
            break
    if cur > y_end:
        segs.append((cur, y_end))
    return segs


fig = go.Figure()

# dotted identification ticks, one trace per colour and group
for group, y0, y1 in ((TOP_LINES, TOP_START, TOP_END), (BOTTOM_LINES, BOT_START, BOT_END)):
    for key in COLORS:
        xs, ys = [], []
        for label, wls, k in group:
            if k != key:
                continue
            for wl in wls:
                for a, b in tick_segments(wl, y0, y1):
                    xs += [wl, wl, None]
                    ys += [a, b, None]
        if xs:
            fig.add_trace(go.Scatter(x=xs, y=ys, mode="lines", hoverinfo="skip",
                                     line=dict(color=COLORS[key], width=1.3, dash="2px,2px")))

# brackets joining blended components
for group, ybr in ((TOP_LINES, TOP_START), (BOTTOM_LINES, BOT_END)):
    for label, wls, k in group:
        if len(wls) > 1 and k != "he":
            fig.add_trace(go.Scatter(x=[min(wls), max(wls)], y=[ybr, ybr], mode="lines",
                                     hoverinfo="skip", line=dict(color=COLORS[k], width=1.5)))
fig.add_trace(go.Scatter(x=[min(SI_III_TRIPLET), max(SI_III_TRIPLET)], y=[BOT_END, BOT_END],
                         mode="lines", hoverinfo="skip",
                         line=dict(color=COLORS["si"], width=1.5)))

# spectra
for sx, sy in spec_arrays:
    fig.add_trace(go.Scatter(x=sx, y=sy, mode="lines", hoverinfo="skip",
                             line=dict(color="black", width=1.2)))

annotations = []
for label, wls, k in TOP_LINES:
    annotations.append(dict(x=float(np.mean(wls)), y=TOP_LABEL_Y, xref="x", yref="y",
                            text=label, textangle=-90, showarrow=False,
                            xanchor="center", yanchor="bottom",
                            font=dict(family=FONT, size=15, color=COLORS[k])))
for label, wls, k in BOTTOM_LINES:
    annotations.append(dict(x=float(np.mean(wls)), y=BOT_LABEL_Y, xref="x", yref="y",
                            text=label, textangle=-90, showarrow=False,
                            xanchor="center", yanchor="top",
                            font=dict(family=FONT, size=14 if k == "h" else 15,
                                      color=COLORS[k])))
for name, sptype, c in zip(STAR_NAMES, SPECTRAL_TYPES, CONTINUUM):
    text = (name + "   " + sptype).replace(" ", "\u00a0")
    annotations.append(dict(x=NAME_X, y=c + NAME_DY, xref="x", yref="y", text=text,
                            showarrow=False, xanchor="left", yanchor="middle",
                            font=dict(family=FONT, size=15, color="black")))

axis_common = dict(showline=True, linecolor="black", linewidth=1, mirror="allticks",
                   ticks="inside", tickcolor="black", tickwidth=1, showgrid=False,
                   zeroline=False, tickfont=dict(family=FONT, size=22, color="black"))

fig.update_layout(
    width=1292, height=1474,
    margin=dict(l=62, r=1, t=10, b=87),
    paper_bgcolor="white", plot_bgcolor="white",
    showlegend=False,
    annotations=annotations,
    xaxis=dict(range=[3950, 4950], tick0=4000, dtick=250, ticklen=25,
               minor=dict(dtick=50, ticks="inside", ticklen=12, tickcolor="black",
                          showgrid=False),
               title=dict(text="Wavelength (\u00c5)", standoff=24,
                          font=dict(family=FONT, size=26, color="black")),
               ticklabelstandoff=4,
               **axis_common),
    yaxis=dict(range=[0, 4.743], tick0=0, dtick=0.5, tickformat=".1f", ticklen=25,
               minor=dict(dtick=0.1, ticks="inside", ticklen=12, tickcolor="black",
                          showgrid=False),
               ticklabelstandoff=12,
               **axis_common),
)

fig.write_html("out.html")
